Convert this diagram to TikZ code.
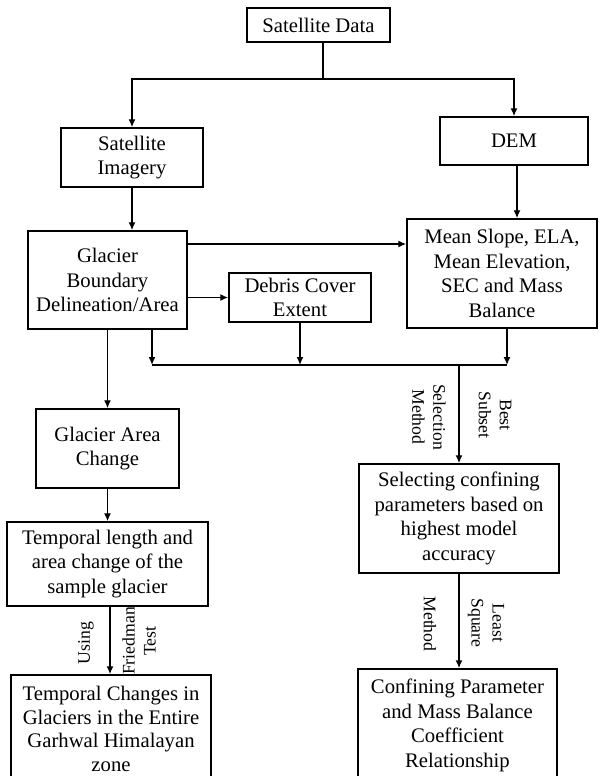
\documentclass[tikz,border=0pt]{standalone}
\usepackage{fontspec}
\setmainfont{Liberation Serif}
\usetikzlibrary{arrows.meta}
\begin{document}
\begin{tikzpicture}[x=1pt, y=-1pt, >={Latex[length=8pt,width=7pt]}, line width=1.4pt,
    box/.style={rectangle, draw, line width=1.5pt, inner sep=0pt, align=center, font=\fontsize{20.7}{24.5}\selectfont},
    lbl/.style={inner sep=0pt, align=center, font=\fontsize{17.7}{21}\selectfont}]
    \useasboundingbox (0,0) rectangle (606,776);
    \clip (0,0) rectangle (606,776);

    % Top row
    \node[box, minimum width=143pt, minimum height=34pt] (sd) at (318.5,25) {Satellite Data};
    \node[box, minimum width=142pt, minimum height=59pt] (si) at (132,157.5) {Satellite\\Imagery};
    \node[box, minimum width=148pt, minimum height=48pt] (dem) at (514,141) {DEM};
    \coordinate (split) at (323,79);
    \draw (sd.south -| split) -- (split);
    \draw[->] (split) -| (si.north);
    \draw[->] (split) -| (dem.north);

    % Middle row
    \node[box, minimum width=159pt, minimum height=98pt] (gb) at (107.5,280) {Glacier\\Boundary\\Delineation/Area};
    \node[box, minimum width=142pt, minimum height=49pt] (dc) at (300,297.5) {Debris Cover\\Extent};
    \node[box, minimum width=190pt, minimum height=109pt] (ms) at (502,273.5) {Mean Slope, ELA,\\Mean Elevation,\\SEC and Mass\\Balance};
    \draw[->] (si.south) -- (si.south |- gb.north);
    \draw[->] (dem.south -| 517,0) -- (ms.north -| 517,0);
    \draw[->] (gb.east |- 0,244) -- (ms.west |- 0,244);
    \draw[->] (gb.east |- dc) -- (dc.west);

    % Collecting line
    \coordinate (busl) at (152,365);
    \coordinate (busr) at (507,365);
    \coordinate (busd) at (459,365);
    \draw[->] (gb.south -| busl) -- (busl);
    \draw[->] (dc.south) -- (dc.south |- busl);
    \draw[->] (ms.south -| busr) -- (busr);
    \draw (busl) -- (busr);

    % Left column
    \node[box, minimum width=143pt, minimum height=79pt] (ga) at (107.5,448.5) {Glacier Area\\Change};
    \node[box, minimum width=201pt, minimum height=84pt] (tl) at (107.5,564) {Temporal length and\\area change of the\\sample glacier};
    \node[box, minimum width=200pt, minimum height=108pt, font=\fontsize{20.7}{23.7}\selectfont] (tc) at (111,729) {Temporal Changes in\\Glaciers in the Entire\\Garhwal Himalayan\\zone};
    \draw[->] (gb.south -| ga) -- (ga.north);
    \draw[->] (ga) -- (tl);
    \draw[->] (tl.south -| 110,0) -- (tc.north -| 110,0);
    \node[lbl, rotate=90] (us) at (86,643) {Using};
    \node[lbl, rotate=90] (ft) at (139,641) {Friedman\\Test};

    % Right column
    \node[box, minimum width=200pt, minimum height=109pt] (sc) at (459,518.5) {Selecting confining\\parameters based on\\highest model\\accuracy};
    \node[box, minimum width=199pt, minimum height=113pt] (cp) at (457.5,725.5) {Confining Parameter\\and Mass Balance\\Coefficient\\Relationship};
    \draw[->] (busd) -- (sc.north -| busd);
    \draw[->] (sc.south -| busd) -- (cp.north -| busd);
    \node[lbl, rotate=-90] (sm) at (429,417) {Selection\\Method};
    \node[lbl, rotate=-90] (bs) at (495,415) {Best\\Subset};
    \node[lbl, rotate=-90] (me) at (430,624) {Method};
    \node[lbl, rotate=-90] (ls) at (486,623) {Least\\Square};
\end{tikzpicture}
\end{document}
